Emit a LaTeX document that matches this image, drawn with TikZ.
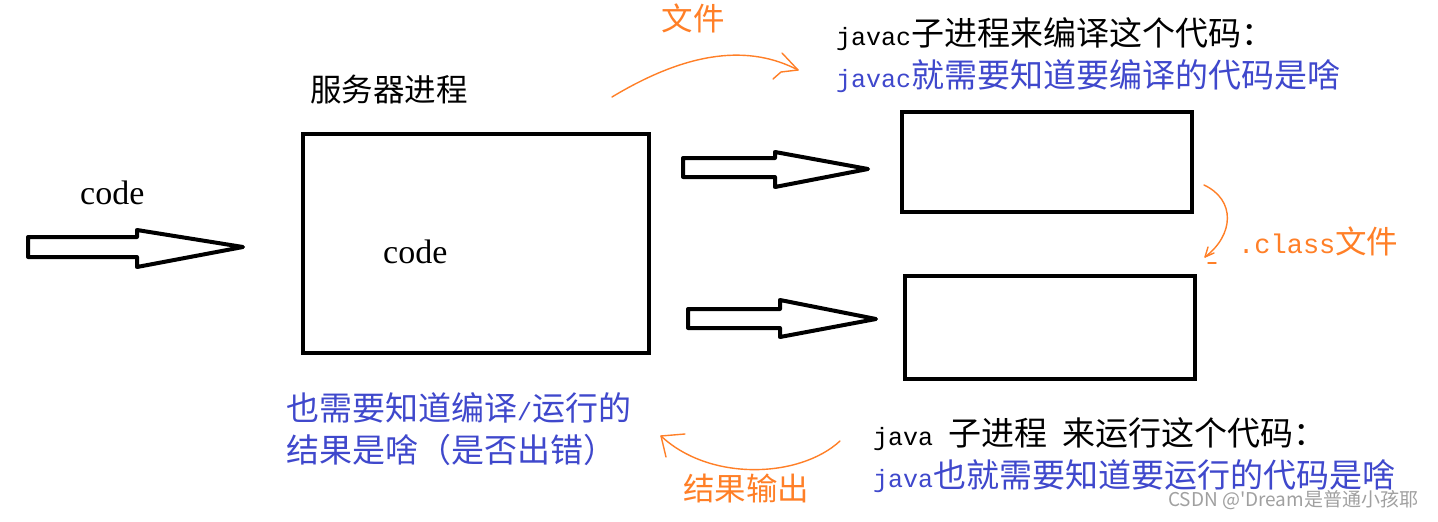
\documentclass[tikz,border=0pt]{standalone}
\usepackage{fontspec}
\newfontfamily\cjkf{Noto Sans CJK SC}
\newfontfamily\monof{Liberation Mono}
\newfontfamily\serf{Liberation Serif}
\definecolor{pblue}{HTML}{3F48CC}
\definecolor{porange}{HTML}{FF7F27}
\definecolor{wmgray}{HTML}{A0A0A0}
\newcommand{\zhc}[1]{{\cjkf\fontsize{33}{38}\selectfont #1}}
\newcommand{\zho}[1]{{\cjkf\fontsize{31.5}{36}\selectfont #1}}
\newcommand{\latn}[1]{{\monof\fontsize{25}{30}\selectfont #1}}
\begin{document}
\begin{tikzpicture}[x=1pt,y=-1pt,
  box/.style={draw=black,line width=4pt,minimum width=#1,inner sep=0pt},
  blockarrow/.style={draw=black,line width=4pt,line join=round,fill=white},
  txt/.style={anchor=west,inner sep=0pt},
  sketch/.style={draw=porange,line width=1.4pt,line cap=round,line join=round}]
\useasboundingbox[fill=white] (0,0) rectangle (1438,522);

% boxes
\node[box=346pt,minimum height=219pt] (server) at (476,243.5) {};
\node[box=290pt,minimum height=100pt] (javac) at (1047,162) {};
\node[box=290pt,minimum height=103pt] (java) at (1050,327.5) {};

% block arrows
\draw[blockarrow] (28,237) -- (137,237) -- (137,230) -- (243,247) -- (137,267) -- (137,257) -- (28,257) -- cycle;
\draw[blockarrow] (683,158) -- (775,158) -- (775,152) -- (868,169) -- (775,187) -- (775,177) -- (683,177) -- cycle;
\draw[blockarrow] (688,309) -- (780,309) -- (780,300) -- (876,319) -- (780,337) -- (780,328) -- (688,328) -- cycle;

% texts
\node[txt] (code1) at (80,193) {\serf\fontsize{34}{40}\selectfont code};
\node[txt] (code2) at (383,252) {\serf\fontsize{34}{40}\selectfont code};
\node[txt] (srvlbl) at (310,90) {\zho{服务器进程}};
\node[txt] (jc1) at (836,34) {\latn{javac}\zhc{子进程来编译这个代码：}};
\node[txt,text=pblue] (jc2) at (836,76) {\latn{javac}\zhc{就需要知道要编译的代码是啥}};
\node[txt] (jv1) at (873,434) {\latn{java }\zhc{子进程}\latn{ }\zhc{来运行这个代码：}};
\node[txt,text=pblue] (jv2) at (873,476) {\latn{java}\zhc{也就需要知道要运行的代码是啥}};
\node[txt,text=pblue] (res1) at (286,408) {\zhc{也需要知道编译}\latn{/}\zhc{运行的}};
\node[txt,text=pblue] (res2) at (286,450) {\zhc{结果是啥（是否出错）}};
\node[text=porange,inner sep=0pt] (file) at (693,18) {\zho{文件}};
\node[txt,text=porange] (cls) at (1238,241) {{\monof\fontsize{27}{32}\selectfont .class}\zho{文件}};
\node[text=porange,inner sep=0pt] (out) at (746,488) {\zho{结果输出}};
\node[txt,text=wmgray] (wm) at (1168,500) {\cjkf\fontsize{19}{22}\selectfont CSDN @'Dream是普通小孩耶};

% orange sketch arrows
\coordinate (a1s) at (612,97);
\coordinate (a1e) at (798,70);
\draw[sketch] (a1s) .. controls (690,50) and (750,45) .. (a1e);
\draw[sketch] (782,53) -- (a1e) -- (781,72) -- (773,79);

\coordinate (a2s) at (1204,185);
\coordinate (a2e) at (1205,257);
\draw[sketch] (a2s) .. controls (1236,200) and (1234,235) .. (a2e);
\draw[sketch] (1208,247) -- (a2e) -- (1214,253);
\draw[sketch] (1208,263) -- (1216,263);

\coordinate (a3s) at (840,441);
\coordinate (a3e) at (661,436);
\draw[sketch] (a3s) .. controls (800,478) and (710,482) .. (a3e);
\draw[sketch] (685,434) -- (a3e) -- (666,457);
\end{tikzpicture}
\end{document}
